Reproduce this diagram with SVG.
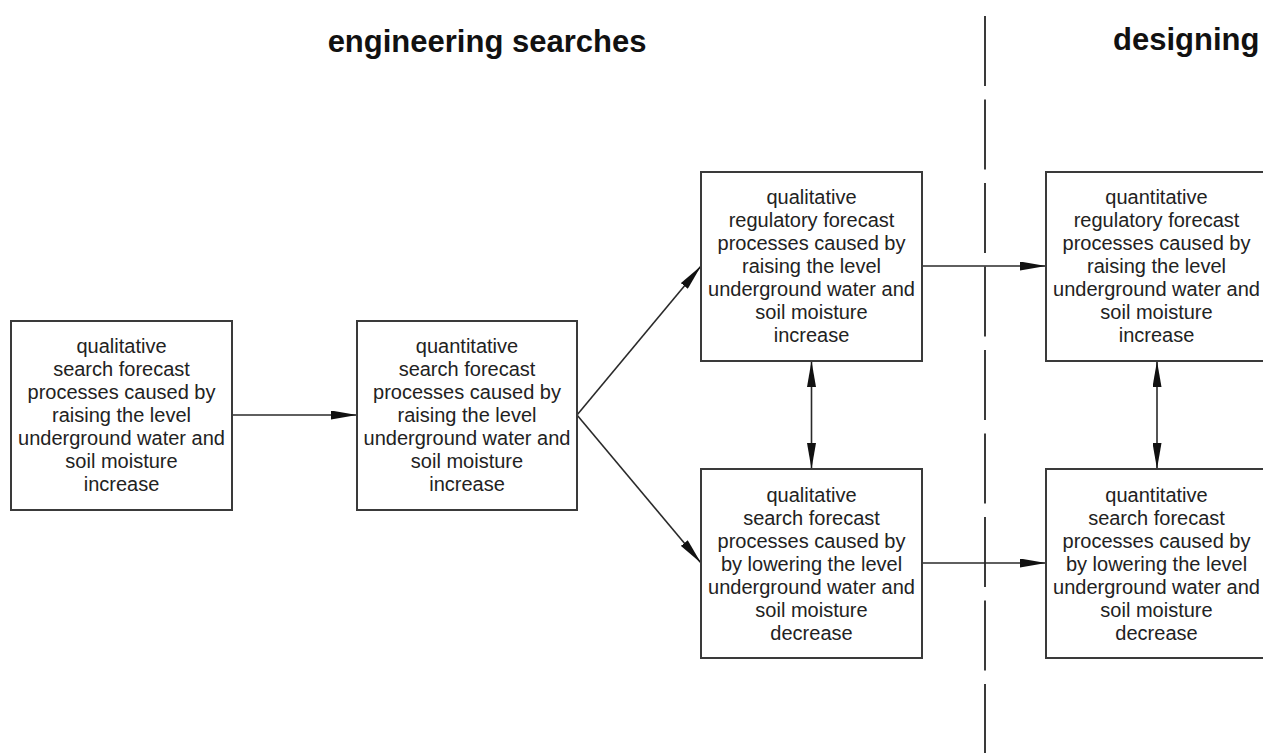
<svg xmlns="http://www.w3.org/2000/svg" width="1263" height="753" viewBox="0 0 1263 753">
<style>
.box{fill:#fff;stroke:#3a3a3a;stroke-width:2}
.t{font-family:"Liberation Sans",Arial,sans-serif;font-size:20px;fill:#222;text-anchor:middle}
.title{font-family:"Liberation Sans",Arial,sans-serif;font-size:31px;font-weight:bold;fill:#111}
.c{stroke:#2a2a2a;stroke-width:1.6;fill:none}
</style>
<defs>
<marker id="ah" viewBox="0 0 26 9" refX="26" refY="4.5" markerWidth="26" markerHeight="9" markerUnits="userSpaceOnUse" orient="auto-start-reverse">
<path d="M0,0 L26,4.5 L0,9 z" fill="#111"/>
</marker>
</defs>
<rect width="1263" height="753" fill="#fff"/>
<text class="title" x="487" y="52" text-anchor="middle">engineering searches</text>
<text class="title" x="1113" y="50">designing</text>
<line x1="985" y1="16" x2="985" y2="753" stroke="#3a3a3a" stroke-width="2" stroke-dasharray="70 13.5"/>
<g id="connectors">
<line class="c" x1="232" y1="415" x2="357" y2="415" marker-end="url(#ah)"/>
<line class="c" x1="577" y1="415" x2="701" y2="266" marker-end="url(#ah)"/>
<line class="c" x1="577" y1="415" x2="701" y2="563" marker-end="url(#ah)"/>
<line class="c" x1="922" y1="266" x2="1046" y2="266" marker-end="url(#ah)"/>
<line class="c" x1="922" y1="563" x2="1046" y2="563" marker-end="url(#ah)"/>
<line class="c" x1="811.5" y1="361" x2="811.5" y2="469" marker-start="url(#ah)" marker-end="url(#ah)"/>
<line class="c" x1="1157" y1="361" x2="1157" y2="469" marker-start="url(#ah)" marker-end="url(#ah)"/>
</g>
<g id="n1">
<rect class="box" x="11" y="321" width="221" height="189"/>
<text class="t" x="121.5" y="353"><tspan x="121.5">qualitative</tspan><tspan x="121.5" dy="23">search forecast</tspan><tspan x="121.5" dy="23">processes caused by</tspan><tspan x="121.5" dy="23">raising the level</tspan><tspan x="121.5" dy="23">underground water and</tspan><tspan x="121.5" dy="23">soil moisture</tspan><tspan x="121.5" dy="23">increase</tspan></text>
</g>
<g id="n2">
<rect class="box" x="357" y="321" width="220" height="189"/>
<text class="t" x="467" y="353"><tspan x="467">quantitative</tspan><tspan x="467" dy="23">search forecast</tspan><tspan x="467" dy="23">processes caused by</tspan><tspan x="467" dy="23">raising the level</tspan><tspan x="467" dy="23">underground water and</tspan><tspan x="467" dy="23">soil moisture</tspan><tspan x="467" dy="23">increase</tspan></text>
</g>
<g id="n3">
<rect class="box" x="701" y="172" width="221" height="189"/>
<text class="t" x="811.5" y="204"><tspan x="811.5">qualitative</tspan><tspan x="811.5" dy="23">regulatory forecast</tspan><tspan x="811.5" dy="23">processes caused by</tspan><tspan x="811.5" dy="23">raising the level</tspan><tspan x="811.5" dy="23">underground water and</tspan><tspan x="811.5" dy="23">soil moisture</tspan><tspan x="811.5" dy="23">increase</tspan></text>
</g>
<g id="n4">
<rect class="box" x="701" y="469" width="221" height="189"/>
<text class="t" x="811.5" y="502"><tspan x="811.5">qualitative</tspan><tspan x="811.5" dy="23">search forecast</tspan><tspan x="811.5" dy="23">processes caused by</tspan><tspan x="811.5" dy="23">by lowering the level</tspan><tspan x="811.5" dy="23">underground water and</tspan><tspan x="811.5" dy="23">soil moisture</tspan><tspan x="811.5" dy="23">decrease</tspan></text>
</g>
<g id="n5">
<rect class="box" x="1046" y="172" width="221" height="189"/>
<text class="t" x="1156.5" y="204"><tspan x="1156.5">quantitative</tspan><tspan x="1156.5" dy="23">regulatory forecast</tspan><tspan x="1156.5" dy="23">processes caused by</tspan><tspan x="1156.5" dy="23">raising the level</tspan><tspan x="1156.5" dy="23">underground water and</tspan><tspan x="1156.5" dy="23">soil moisture</tspan><tspan x="1156.5" dy="23">increase</tspan></text>
</g>
<g id="n6">
<rect class="box" x="1046" y="469" width="221" height="189"/>
<text class="t" x="1156.5" y="502"><tspan x="1156.5">quantitative</tspan><tspan x="1156.5" dy="23">search forecast</tspan><tspan x="1156.5" dy="23">processes caused by</tspan><tspan x="1156.5" dy="23">by lowering the level</tspan><tspan x="1156.5" dy="23">underground water and</tspan><tspan x="1156.5" dy="23">soil moisture</tspan><tspan x="1156.5" dy="23">decrease</tspan></text>
</g>
</svg>
